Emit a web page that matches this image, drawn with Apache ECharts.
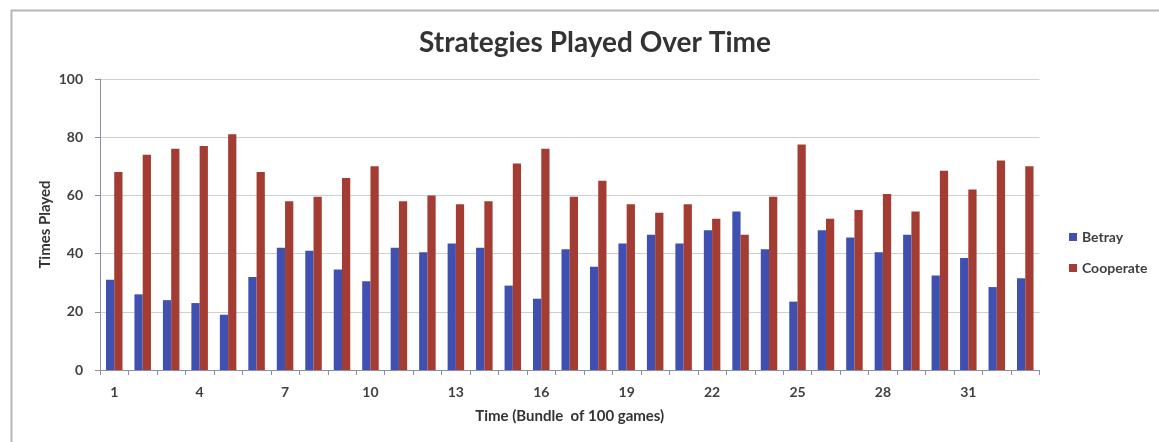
<!DOCTYPE html>
<html>
<head>
<meta charset="utf-8">
<script src="https://cdn.jsdelivr.net/npm/echarts@6/dist/echarts.min.js"></script>
<style>
html,body{margin:0;padding:0;background:#fff;}
#c{width:1159px;height:442px;}
</style>
</head>
<body>
<div id="c"></div>
<script>
var categories = ['1','2','3','4','5','6','7','8','9','10','11','12','13','14','15','16','17','18','19','20','21','22','23','24','25','26','27','28','29','30','31','32','33'];
var betray = [31, 26, 24, 23, 19, 32, 42, 41, 34.5, 30.5, 42, 40.5, 43.5, 42, 29, 24.5, 41.5, 35.5, 43.5, 46.5, 43.5, 48, 54.5, 41.5, 23.5, 48, 45.5, 40.5, 46.5, 32.5, 38.5, 28.5, 31.5];
var cooperate = [68, 74, 76, 77, 81, 68, 58, 59.5, 66, 70, 58, 60, 57, 58, 71, 76, 59.5, 65, 57, 54, 57, 52, 46.5, 59.5, 77.5, 52, 55, 60.5, 54.5, 68.5, 62, 72, 70];
var yTicks = [0, 20, 40, 60, 80, 100];

var FONT = 'Lato';
var chart = echarts.init(document.getElementById('c'), null, {renderer: 'canvas'});
chart.setOption({
  animation: false,
  backgroundColor: '#ffffff',
  textStyle: {fontFamily: FONT},
  title: {
    text: 'Strategies Played Over Time',
    left: 590, top: 24, textAlign: 'center',
    textStyle: {fontFamily: FONT, fontSize: 28, fontWeight: 'bold', color: '#333333'}
  },
  legend: {
    orient: 'vertical', left: 1064, top: 225,
    itemWidth: 8, itemHeight: 8, itemGap: 17, icon: 'rect',
    textStyle: {fontFamily: FONT, fontSize: 14, fontWeight: 'bold', color: '#404040'},
    data: ['Betray', 'Cooperate']
  },
  grid: {left: 100, right: 119.5, top: 79, bottom: 72, containLabel: false},
  xAxis: {
    type: 'category', data: categories, boundaryGap: true,
    name: 'Time (Bundle  of 100 games)', nameLocation: 'middle', nameGap: 39,
    nameMoveOverlap: false,
    nameTextStyle: {fontFamily: FONT, fontSize: 15, fontWeight: 'bold', color: '#333'},
    axisLine: {lineStyle: {color: '#8a8fa8', width: 1}},
    axisTick: {show: true, interval: 0, length: 5, lineStyle: {color: '#8a8fa8'}},
    axisLabel: {interval: 2, margin: 15, fontFamily: FONT, fontSize: 14, fontWeight: 'bold', color: '#404040'},
    splitLine: {show: false}
  },
  yAxis: {
    type: 'value', min: yTicks[0], max: yTicks[yTicks.length - 1], interval: 20,
    name: 'Times Played', nameLocation: 'middle', nameGap: 47,
    nameMoveOverlap: false,
    nameTextStyle: {fontFamily: FONT, fontSize: 15, fontWeight: 'bold', color: '#333'},
    axisLine: {show: true, lineStyle: {color: '#8a8fa8', width: 1}},
    axisTick: {show: true, length: 5, lineStyle: {color: '#8a8fa8'}},
    axisLabel: {margin: 17, fontFamily: FONT, fontSize: 14, fontWeight: 'bold', color: '#404040'},
    splitLine: {show: true, lineStyle: {color: '#cfcfcf', width: 1}}
  },
  series: [
    {name: 'Betray', type: 'bar', data: betray, barGap: '0%', barCategoryGap: '42%',
     itemStyle: {color: '#3f50b0'}},
    {name: 'Cooperate', type: 'bar', data: cooperate, barGap: '0%', barCategoryGap: '42%',
     itemStyle: {color: '#a33c33'}}
  ],
  graphic: [{
    type: 'rect', left: 9, top: 8, silent: true,
    shape: {width: 1200, height: 500},
    style: {fill: 'none', stroke: '#b5b5b5', lineWidth: 2}
  }]
});
</script>
</body>
</html>
